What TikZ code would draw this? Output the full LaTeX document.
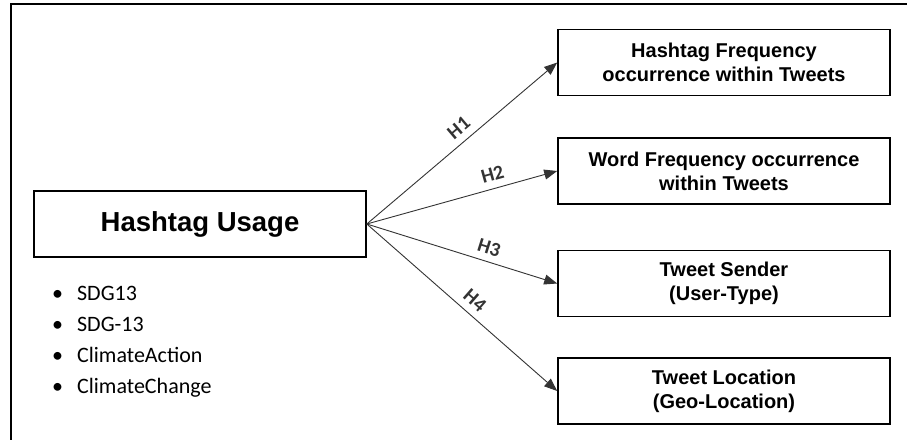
\documentclass[tikz,border=0pt]{standalone}
\usepackage{fontspec}
\setmainfont{Liberation Sans}
\newfontfamily\calibfont{Carlito}
\usetikzlibrary{arrows.meta}

\begin{document}
\begin{tikzpicture}[x=1pt, y=-1pt]
\tikzstyle{box} = [draw, line width=1.6pt, minimum width=332pt, minimum height=66pt, align=center, inner sep=0pt, font=\bfseries\fontsize{20}{24}\selectfont]
\tikzstyle{link} = [-{Triangle[length=13pt, width=10pt]}, line width=0.9pt, black!80]
\tikzstyle{hyp} = [sloped, above=7pt, inner sep=0pt, font=\calibfont\bfseries\fontsize{20}{22}\selectfont]
\tikzstyle{tag} = [anchor=base west, inner sep=0pt, font=\calibfont\fontsize{22}{26}\selectfont]

\useasboundingbox (0,0) rectangle (907,439);
% frame, open at right and bottom
\draw[line width=1.8pt] (11,445) -- (11,4) -- (915,4);

\node[box, font=\bfseries\fontsize{27.5}{32}\selectfont] (usage) at (200,224) {Hashtag Usage};
\node[box] (hfreq) at (724,62.5) {Hashtag Frequency\\occurrence within Tweets};
\node[box] (wfreq) at (724,171) {Word Frequency occurrence\\within Tweets};
\node[box] (sender) at (724,283.5) {Tweet Sender\\(User-Type)};
\node[box] (loc) at (724,391) {Tweet Location\\(Geo-Location)};

\foreach \tg [count=\i] in {SDG13, SDG-13, ClimateAction, ClimateChange}
\node[tag] (tag\i) at (52, 269+31*\i) {\textbullet\hspace{14pt}\tg};

%\draw [->] (usage) -- (hfreq)
\foreach \to/\lab/\p in {hfreq/H1/0.53, wfreq/H2/0.68, sender/H3/0.62, loc/H4/0.52}
\draw [link] (usage.east) -- (\to.west) node[hyp, pos=\p] {\lab};
\end{tikzpicture}
\end{document}
